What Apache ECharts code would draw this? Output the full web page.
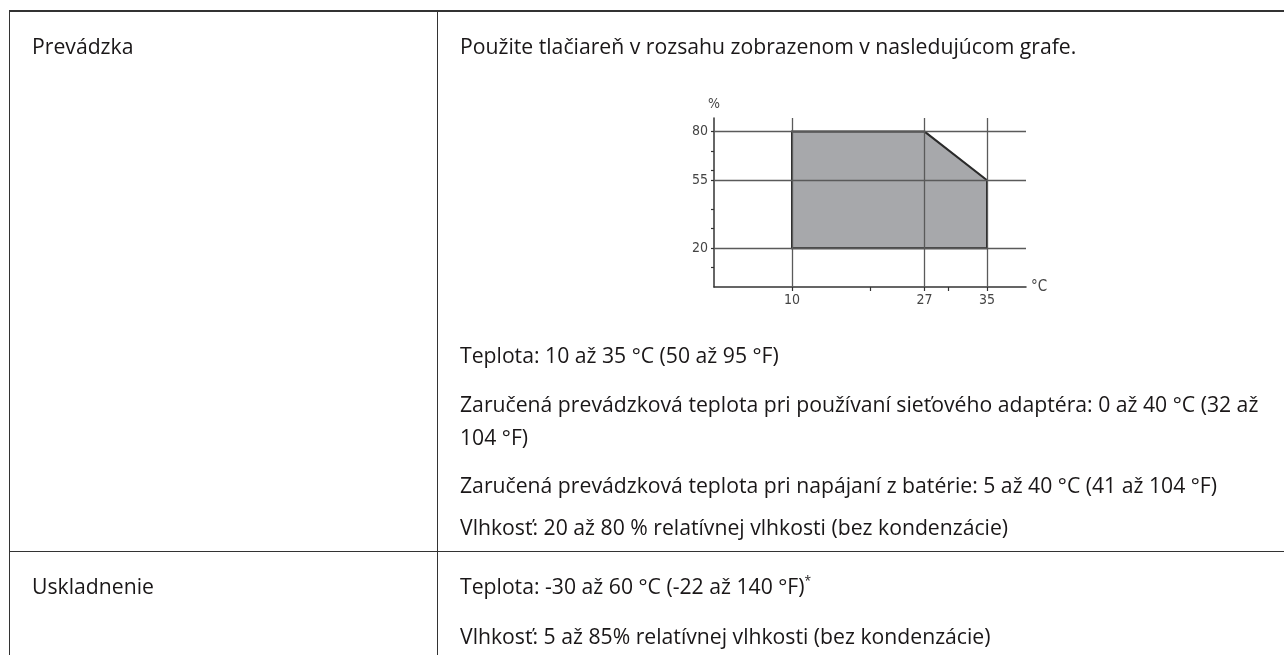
<!DOCTYPE html>
<html>
<head>
<meta charset="utf-8">
<script src="https://cdn.jsdelivr.net/npm/echarts@6/dist/echarts.min.js"></script>
<style>
  html, body { margin: 0; padding: 0; background: #fff; }
  #page { position: relative; width: 1284px; height: 655px; overflow: hidden; }
  #chart { position: absolute; left: 0; top: 0; width: 1284px; height: 655px; }
  .t { position: absolute; white-space: nowrap; font-family: 'Open Sans', 'Noto Sans', sans-serif;
       font-size: 21.2px; line-height: 1; color: #1a1718; transform: translateY(-50%); z-index: 2; }
  .ln { position: absolute; background: #333; z-index: 2; }
  sup { font-size: 12px; vertical-align: 0; position: relative; top: -9px; }
</style>
</head>
<body>
<div id="page">
  <div id="chart"></div>
  <!-- table rules -->
  <div class="ln" style="left:9px; top:10px; width:1275px; height:2px;"></div>
  <div class="ln" style="left:9px; top:10px; width:1px; height:645px;"></div>
  <div class="ln" style="left:437px; top:10px; width:1px; height:645px;"></div>
  <div class="ln" style="left:9px; top:551px; width:1275px; height:1px;"></div>
  <!-- texts -->
  <div class="t" style="left:32px; top:46px;">Prevádzka</div>
  <div class="t" style="left:460px; top:46px;">Použite tlačiareň v rozsahu zobrazenom v nasledujúcom grafe.</div>
  <div class="t" style="left:460px; top:355px;">Teplota: 10 až 35 °C (50 až 95 °F)</div>
  <div class="t" style="left:460px; top:404px;">Zaručená prevádzková teplota pri používaní sieťového adaptéra: 0 až 40 °C (32 až</div>
  <div class="t" style="left:460px; top:437px;">104 °F)</div>
  <div class="t" style="left:460px; top:485px;">Zaručená prevádzková teplota pri napájaní z batérie: 5 až 40 °C (41 až 104 °F)</div>
  <div class="t" style="left:460px; top:527px;">Vlhkosť: 20 až 80 % relatívnej vlhkosti (bez kondenzácie)</div>
  <div class="t" style="left:32px; top:586px;">Uskladnenie</div>
  <div class="t" style="left:460px; top:586px;">Teplota: -30 až 60 °C (-22 až 140 °F)<sup>*</sup></div>
  <div class="t" style="left:460px; top:636px;">Vlhkosť: 5 až 85% relatívnej vlhkosti (bez kondenzácie)</div>
</div>
<script>
// ---- data ----
const zoneTemp = [10, 10, 27, 35, 35];          // °C, polygon vertices
const zoneHum  = [20, 80, 80, 55, 20];          // %, polygon vertices
const xLabelValues = [10, 27, 35];              // labelled temperatures (with grid lines)
const xTickValues  = [10, 20, 27, 30, 35];      // tick marks on temperature axis
const yLabelValues = [20, 55, 80];              // labelled humidities (with grid lines)
const yTickValues  = [10, 20, 30, 40, 55, 60, 70, 80];
const xRange = [0, 40];
const yRange = [0, 87];

const chart = echarts.init(document.getElementById('chart'), null, { renderer: 'canvas' });
const axisFont = "'Liberation Sans Narrow', 'DejaVu Sans Condensed', 'Liberation Sans', sans-serif";

const gridLines = xLabelValues.map(v => ({ xAxis: v })).concat(yLabelValues.map(v => ({ yAxis: v })));

function polyPoints(api) {
  return zoneTemp.map((t, i) => api.coord([t, zoneHum[i]]));
}

chart.setOption({
  animation: false,
  backgroundColor: 'transparent',
  grid: { left: 714, right: 258, top: 118, bottom: 368, containLabel: false },
  xAxis: {
    type: 'value', min: xRange[0], max: xRange[1],
    name: '°C', nameLocation: 'end', nameGap: 5,
    nameTextStyle: { color: '#444', fontFamily: axisFont, fontSize: 15, verticalAlign: 'middle' },
    axisLine: { show: true, lineStyle: { color: '#333', width: 1.5 } },
    axisTick: { show: true, customValues: xTickValues, length: 4, lineStyle: { color: '#333', width: 1.2 } },
    axisLabel: { customValues: xLabelValues, margin: 6, color: '#444', fontFamily: axisFont, fontSize: 14 },
    splitLine: { show: false }
  },
  yAxis: {
    type: 'value', min: yRange[0], max: yRange[1],
    name: '%', nameLocation: 'end', nameGap: 7,
    nameTextStyle: { color: '#444', fontFamily: axisFont, fontSize: 14, align: 'center' },
    axisLine: { show: true, lineStyle: { color: '#333', width: 1.5 } },
    axisTick: { show: true, customValues: yTickValues, length: 3, lineStyle: { color: '#333', width: 1.2 } },
    axisLabel: { customValues: yLabelValues, margin: 6, color: '#444', fontFamily: axisFont, fontSize: 14 },
    splitLine: { show: false }
  },
  series: [
    {
      type: 'custom', z: 1, silent: true,
      data: [0],
      renderItem: (params, api) => ({
        type: 'polygon',
        shape: { points: polyPoints(api) },
        style: { fill: '#a7a8ab', stroke: 'none' }
      })
    },
    {
      type: 'line', z: 2, data: [], silent: true,
      markLine: {
        silent: true, symbol: ['none', 'none'], animation: false,
        label: { show: false },
        lineStyle: { color: '#5a5a5a', width: 1.3, type: 'solid' },
        emphasis: { disabled: true },
        data: gridLines
      }
    },
    {
      type: 'custom', z: 3, silent: true,
      data: [0],
      renderItem: (params, api) => ({
        type: 'polygon',
        shape: { points: polyPoints(api) },
        style: { fill: 'none', stroke: '#2a2a2a', lineWidth: 2 }
      })
    }
  ]
});
</script>
</body>
</html>
